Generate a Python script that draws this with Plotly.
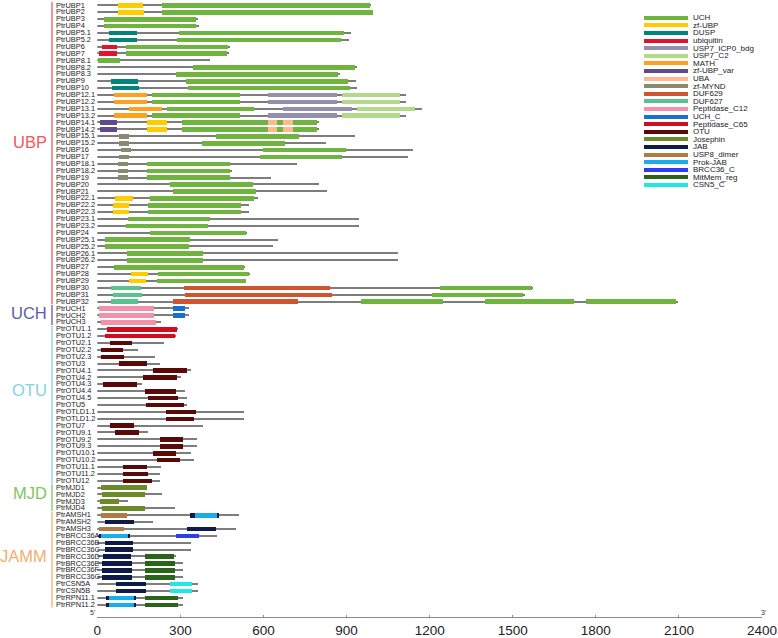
import plotly.graph_objects as go

# protein order (top to bottom) and full lengths (aa)
ubp = ['PtrUBP1', 'PtrUBP2', 'PtrUBP3', 'PtrUBP4', 'PtrUBP5.1', 'PtrUBP5.2', 'PtrUBP6', 'PtrUBP7',
       'PtrUBP8.1', 'PtrUBP8.2', 'PtrUBP8.3', 'PtrUBP9', 'PtrUBP10', 'PtrUBP12.1', 'PtrUBP12.2',
       'PtrUBP13.1', 'PtrUBP13.2', 'PtrUBP14.1', 'PtrUBP14.2', 'PtrUBP15.1', 'PtrUBP15.2', 'PtrUBP16',
       'PtrUBP17', 'PtrUBP18.1', 'PtrUBP18.2', 'PtrUBP19', 'PtrUBP20', 'PtrUBP21', 'PtrUBP22.1',
       'PtrUBP22.2', 'PtrUBP22.3', 'PtrUBP23.1', 'PtrUBP23.2', 'PtrUBP24', 'PtrUBP25.1', 'PtrUBP25.2',
       'PtrUBP26.1', 'PtrUBP26.2', 'PtrUBP27', 'PtrUBP28', 'PtrUBP29', 'PtrUBP30', 'PtrUBP31', 'PtrUBP32']
uch = ['PtrUCH1', 'PtrUCH2', 'PtrUCH3']
otu = ['PtrOTU1.1', 'PtrOTU1.2', 'PtrOTU2.1', 'PtrOTU2.2', 'PtrOTU2.3', 'PtrOTU3', 'PtrOTU4.1',
       'PtrOTU4.2', 'PtrOTU4.3', 'PtrOTU4.4', 'PtrOTU4.5', 'PtrOTU5', 'PtrOTLD1.1', 'PtrOTLD1.2',
       'PtrOTU7', 'PtrOTU9.1', 'PtrOTU9.2', 'PtrOTU9.3', 'PtrOTU10.1', 'PtrOTU10.2', 'PtrOTU11.1',
       'PtrOTU11.2', 'PtrOTU12']
mjd = ['PtrMJD1', 'PtrMJD2', 'PtrMJD3', 'PtrMJD4']
jamm = ['PtrAMSH1', 'PtrAMSH2', 'PtrAMSH3', 'PtrBRCC36A', 'PtrBRCC36B', 'PtrBRCC36C', 'PtrBRCC36D',
        'PtrBRCC36E', 'PtrBRCC36F', 'PtrBRCC36G', 'PtrCSN5A', 'PtrCSN5B', 'PtrRPN11.1', 'PtrRPN11.2']

ubp_len = [990, 998, 366, 369, 918, 909, 479, 476, 407, 938, 878, 935, 939, 1116, 1116, 1172, 1116,
           801, 801, 933, 826, 1140, 1123, 721, 486, 629, 802, 830, 581, 550, 550, 945, 945, 540,
           653, 637, 1085, 1085, 533, 554, 539, 1573, 1544, 2097]
uch_len = [333, 333, 232]
otu_len = [292, 285, 241, 148, 208, 226, 341, 303, 164, 318, 325, 325, 532, 532, 382, 185, 361,
           361, 338, 352, 230, 227, 227]
mjd_len = [180, 233, 113, 281]
jamm_len = [511, 203, 501, 432, 340, 340, 287, 310, 310, 310, 365, 365, 310, 310]

# domains: (protein, start, end)
UCH = [('PtrUBP1', 233, 984), ('PtrUBP2', 233, 995), ('PtrUBP3', 25, 359), ('PtrUBP4', 25, 358),
       ('PtrUBP5.1', 297, 892), ('PtrUBP5.2', 290, 882), ('PtrUBP6', 106, 472), ('PtrUBP7', 106, 469),
       ('PtrUBP8.1', 2, 83), ('PtrUBP8.2', 346, 932), ('PtrUBP8.3', 286, 870), ('PtrUBP9', 323, 908),
       ('PtrUBP10', 328, 913), ('PtrUBP12.1', 197, 515), ('PtrUBP12.2', 197, 515),
       ('PtrUBP13.1', 251, 568), ('PtrUBP13.2', 197, 515), ('PtrUBP14.1', 308, 795),
       ('PtrUBP14.2', 308, 795), ('PtrUBP15.1', 430, 729), ('PtrUBP15.2', 380, 679),
       ('PtrUBP16', 600, 899), ('PtrUBP17', 587, 885), ('PtrUBP18.1', 181, 481),
       ('PtrUBP18.2', 181, 481), ('PtrUBP19', 181, 481), ('PtrUBP20', 264, 562), ('PtrUBP21', 276, 575),
       ('PtrUBP22.1', 193, 567), ('PtrUBP22.2', 183, 519), ('PtrUBP22.3', 183, 519),
       ('PtrUBP23.1', 111, 407), ('PtrUBP23.2', 105, 401), ('PtrUBP24', 193, 537),
       ('PtrUBP25.1', 30, 337), ('PtrUBP25.2', 30, 333), ('PtrUBP26.1', 109, 384),
       ('PtrUBP26.2', 109, 384), ('PtrUBP27', 62, 531), ('PtrUBP28', 222, 550), ('PtrUBP29', 216, 537),
       ('PtrUBP30', 1239, 1569), ('PtrUBP31', 1210, 1539), ('PtrUBP32', 952, 1249),
       ('PtrUBP32', 1402, 1722), ('PtrUBP32', 1767, 2092)]
ZF_UBP = [('PtrUBP1', 75, 166), ('PtrUBP2', 75, 168), ('PtrUBP14.1', 181, 252), ('PtrUBP14.2', 181, 252),
          ('PtrUBP22.1', 66, 130), ('PtrUBP22.2', 57, 116), ('PtrUBP22.3', 57, 116),
          ('PtrUBP28', 123, 183), ('PtrUBP29', 117, 178)]
DUSP = [('PtrUBP5.1', 42, 144), ('PtrUBP5.2', 42, 144), ('PtrUBP9', 50, 148), ('PtrUBP10', 54, 152)]
UBIQUITIN = [('PtrUBP6', 18, 74), ('PtrUBP7', 7, 74)]
USP7_ICP0 = [('PtrUBP12.1', 617, 866), ('PtrUBP12.2', 617, 866), ('PtrUBP13.1', 673, 920),
             ('PtrUBP13.2', 617, 866)]
USP7_C2 = [('PtrUBP12.1', 885, 1094), ('PtrUBP12.2', 885, 1094), ('PtrUBP13.1', 938, 1148),
           ('PtrUBP13.2', 885, 1094)]
MATH = [('PtrUBP12.1', 61, 179), ('PtrUBP12.2', 61, 179), ('PtrUBP13.1', 115, 233), ('PtrUBP13.2', 61, 179)]
ZF_UBP_VAR = [('PtrUBP14.1', 12, 74), ('PtrUBP14.2', 12, 74)]
UBA = [('PtrUBP14.1', 616, 651), ('PtrUBP14.1', 673, 709), ('PtrUBP14.2', 616, 651), ('PtrUBP14.2', 673, 709)]
ZF_MYND = [('PtrUBP15.1', 78, 115), ('PtrUBP15.2', 78, 115), ('PtrUBP16', 86, 122), ('PtrUBP17', 79, 115),
           ('PtrUBP18.1', 75, 111), ('PtrUBP18.2', 75, 111), ('PtrUBP19', 75, 111)]
DUF629 = [('PtrUBP30', 315, 842), ('PtrUBP31', 319, 847), ('PtrUBP32', 276, 727)]
DUF627 = [('PtrUBP30', 50, 158), ('PtrUBP31', 57, 164), ('PtrUBP32', 50, 148)]
PEP_C12 = [('PtrUCH1', 6, 205), ('PtrUCH2', 6, 205), ('PtrUCH3', 14, 214)]
UCH_C = [('PtrUCH1', 273, 318), ('PtrUCH2', 273, 318)]
PEP_C65 = [('PtrOTU1.1', 37, 290), ('PtrOTU1.2', 30, 283)]
OTU = [('PtrOTU2.1', 47, 128), ('PtrOTU2.2', 14, 95), ('PtrOTU2.3', 14, 97), ('PtrOTU3', 78, 180),
       ('PtrOTU4.1', 201, 325), ('PtrOTU4.2', 166, 290), ('PtrOTU4.3', 21, 146), ('PtrOTU4.4', 175, 287),
       ('PtrOTU4.5', 183, 294), ('PtrOTU5', 177, 315), ('PtrOTLD1.1', 250, 357), ('PtrOTLD1.2', 250, 352),
       ('PtrOTU7', 47, 133), ('PtrOTU9.1', 66, 150), ('PtrOTU9.2', 226, 309), ('PtrOTU9.3', 227, 310),
       ('PtrOTU10.1', 201, 284), ('PtrOTU10.2', 215, 300), ('PtrOTU11.1', 95, 179),
       ('PtrOTU11.2', 95, 184), ('PtrOTU12', 95, 198)]
JOSEPHIN = [('PtrMJD1', 14, 179), ('PtrMJD2', 19, 173), ('PtrMJD3', 11, 81), ('PtrMJD4', 17, 172)]
JAB = [('PtrAMSH1', 334, 441), ('PtrAMSH2', 29, 132), ('PtrAMSH3', 325, 430), ('PtrBRCC36A', 6, 118),
       ('PtrBRCC36B', 29, 131), ('PtrBRCC36C', 29, 131), ('PtrBRCC36D', 21, 124),
       ('PtrBRCC36E', 17, 125), ('PtrBRCC36F', 17, 125), ('PtrBRCC36G', 17, 125),
       ('PtrCSN5A', 68, 178), ('PtrCSN5B', 68, 178), ('PtrRPN11.1', 32, 142), ('PtrRPN11.2', 32, 142)]
USP8_DIMER = [('PtrAMSH1', 14, 109), ('PtrAMSH3', 8, 98)]
PROK_JAB = [('PtrAMSH1', 355, 435), ('PtrBRCC36A', 13, 113), ('PtrRPN11.1', 43, 134), ('PtrRPN11.2', 43, 134)]
BRCC36_C = [('PtrBRCC36A', 287, 369)]
MITMEM = [('PtrBRCC36D', 174, 279), ('PtrBRCC36E', 174, 283), ('PtrBRCC36F', 174, 283),
          ('PtrBRCC36G', 174, 283), ('PtrRPN11.1', 175, 294), ('PtrRPN11.2', 175, 294)]
CSN5_C = [('PtrCSN5A', 265, 344), ('PtrCSN5B', 265, 344)]

domain_names = ['UCH', 'zf-UBP', 'DUSP', 'ubiquitin', 'USP7_ICP0_bdg', 'USP7_C2', 'MATH', 'zf-UBP_var',
                'UBA', 'zf-MYND', 'DUF629', 'DUF627', 'Peptidase_C12', 'UCH_C', 'Peptidase_C65', 'OTU',
                'Josephin', 'JAB', 'USP8_dimer', 'Prok-JAB', 'BRCC36_C', 'MitMem_reg', 'CSN5_C']
domain_colors = ['#6fb43f', '#ffcc00', '#00857a', '#e8112d', '#958fae', '#b3d98a', '#ffa020', '#5e4a8c',
                 '#ffb98c', '#878b72', '#d0542e', '#5cc08f', '#f291a9', '#1b6fcc', '#d20c1e', '#5a0808',
                 '#6b8a2a', '#0e1a4a', '#b07a45', '#19aeea', '#2a3ef0', '#2a6418', '#1ee8e8']
domain_lists = [UCH, ZF_UBP, DUSP, UBIQUITIN, USP7_ICP0, USP7_C2, MATH, ZF_UBP_VAR, UBA, ZF_MYND,
                DUF629, DUF627, PEP_C12, UCH_C, PEP_C65, OTU, JOSEPHIN, JAB, USP8_DIMER, PROK_JAB,
                BRCC36_C, MITMEM, CSN5_C]

groups = ['UBP', 'UCH', 'OTU', 'MJD', 'JAMM']
group_members = [ubp, uch, otu, mjd, jamm]
group_colors = ['#f2565e', '#5b5ea6', '#86d0e4', '#82c460', '#f5ae6c']

proteins = ubp + uch + otu + mjd + jamm
lengths = ubp_len + uch_len + otu_len + mjd_len + jamm_len
n = len(proteins)

W, H = 778, 638
fig = go.Figure()

# backbone lines
fig.add_trace(go.Bar(y=proteins, x=lengths, base=[0] * n, orientation='h', width=0.2,
                     marker=dict(color='#7d7d7d', line=dict(width=0)), showlegend=False))

# domains
for name, color, doms in zip(domain_names, domain_colors, domain_lists):
    fig.add_trace(go.Bar(y=[d[0] for d in doms], x=[d[2] - d[1] for d in doms],
                         base=[d[1] for d in doms], orientation='h', width=0.66,
                         marker=dict(color=color, line=dict(width=0)), name=name, showlegend=False))

# legend drawn as a little subplot
fig.add_trace(go.Bar(y=domain_names, x=[1] * len(domain_names), base=[0] * len(domain_names),
                     orientation='h', width=0.55, marker=dict(color=domain_colors, line=dict(width=0)),
                     xaxis='x2', yaxis='y2', showlegend=False))

# protein names
annotations = []
for p in proteins:
    annotations.append(dict(x=55 / W, xref='paper', y=p, yref='y', text=p, showarrow=False,
                            xanchor='left', yanchor='middle', borderpad=0,
                            font=dict(size=7.4, color='#1a1a1a', family='Liberation Sans')))

# family labels and side bars
label_shift = [-1.6, -0.3, -2.1, -0.7, -0.5]
shapes = []
start = 0
for g, members, col, sh in zip(groups, group_members, group_colors, label_shift):
    first, last = start, start + len(members) - 1
    shapes.append(dict(type='line', xref='paper', yref='y', x0=52 / W, x1=52 / W,
                       y0=first - 0.45, y1=last + 0.45, line=dict(color=col, width=1.3)))
    annotations.append(dict(x=48 / W, xref='paper', y=(first + last) / 2 + sh, yref='y', text=g,
                            showarrow=False, xanchor='right', yanchor='middle', borderpad=0,
                            font=dict(size=16.5, color=col, family='Liberation Sans')))
    start = last + 1

axis_y = 1 - 617 / H
annotations.append(dict(x=96 / W, y=axis_y, xref='paper', yref='paper', text="5'", showarrow=False,
                        xanchor='right', yanchor='bottom', borderpad=0, font=dict(size=7, color='#333')))
annotations.append(dict(x=760 / W, y=axis_y, xref='paper', yref='paper', text="3'", showarrow=False,
                        xanchor='left', yanchor='bottom', borderpad=0, font=dict(size=7, color='#333')))

row_top = 5 - 3.45
row_bot = 5 + (n - 1) * 6.89 + 3.45

fig.update_layout(
    width=W, height=H, margin=dict(l=0, r=0, t=0, b=0),
    paper_bgcolor='white', plot_bgcolor='white',
    barmode='overlay', bargap=0,
    font=dict(family='Liberation Sans'),
    xaxis=dict(domain=[97.3 / W, 762 / W], range=[0, 2400], anchor='free', position=axis_y,
               tickvals=list(range(0, 2401, 300)), showgrid=False, zeroline=False, automargin=False,
               showline=True, linecolor='#8a8a8a', linewidth=1, ticks='inside', ticklen=2,
               tickcolor='#8a8a8a', tickfont=dict(size=13.5, color='#222'), ticklabelstandoff=1),
    yaxis=dict(domain=[1 - row_bot / H, 1 - row_top / H], type='category', categoryorder='array',
               categoryarray=proteins, range=[n - 0.5, -0.5], showticklabels=False, automargin=False,
               showgrid=False, zeroline=False, showline=False, ticks=''),
    xaxis2=dict(domain=[644 / W, 688 / W], range=[0, 1], anchor='y2', visible=False, automargin=False),
    yaxis2=dict(domain=[1 - 188.3 / H, 1 - 13.5 / H], anchor='x2', side='right', type='category',
                categoryorder='array', categoryarray=domain_names, automargin=False,
                tickmode='array', tickvals=domain_names, ticktext=domain_names,
                range=[len(domain_names) - 0.5, -0.5], showgrid=False, zeroline=False, showline=False,
                ticks='', ticklabelstandoff=4, tickfont=dict(size=8, color='#1a1a1a')),
    annotations=annotations, shapes=shapes,
)

# the page body has a default 8px margin; drop it so the figure sits at the window corner
fig.write_html("out.html", config={'displayModeBar': False},
               post_script="document.body.style.margin = '0';")
